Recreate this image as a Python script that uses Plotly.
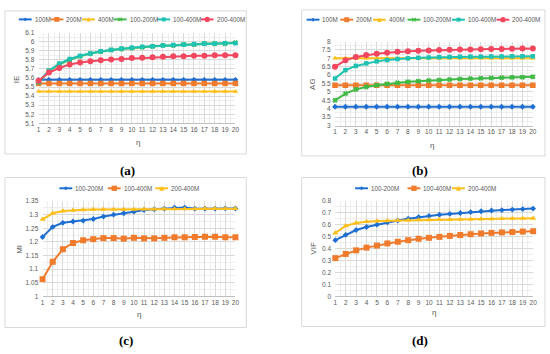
import plotly.graph_objects as go

# ---------------- data ----------------
eta = list(range(1, 21))

# (a) IE
ie_100M = [5.58, 5.58, 5.58, 5.58, 5.58, 5.58, 5.58, 5.58, 5.58, 5.58,
           5.58, 5.58, 5.58, 5.58, 5.58, 5.58, 5.58, 5.58, 5.58, 5.58]
ie_200M = [5.54, 5.54, 5.54, 5.54, 5.54, 5.54, 5.54, 5.54, 5.54, 5.54,
           5.54, 5.54, 5.54, 5.54, 5.54, 5.54, 5.54, 5.54, 5.54, 5.54]
ie_400M = [5.45, 5.45, 5.45, 5.45, 5.45, 5.45, 5.45, 5.45, 5.45, 5.45,
           5.45, 5.45, 5.45, 5.45, 5.45, 5.45, 5.45, 5.45, 5.45, 5.45]
ie_100_200M = [5.55, 5.68, 5.75, 5.80, 5.84, 5.87, 5.89, 5.91, 5.92, 5.93,
               5.94, 5.95, 5.96, 5.96, 5.97, 5.97, 5.98, 5.98, 5.98, 5.99]
ie_100_400M = [5.56, 5.68, 5.76, 5.81, 5.845, 5.87, 5.895, 5.91, 5.925, 5.935,
               5.945, 5.95, 5.96, 5.965, 5.97, 5.975, 5.98, 5.98, 5.985, 5.985]
ie_200_400M = [5.57, 5.66, 5.71, 5.75, 5.77, 5.785, 5.795, 5.805, 5.81, 5.82,
               5.825, 5.83, 5.835, 5.84, 5.84, 5.845, 5.845, 5.85, 5.85, 5.85]

# (b) AG
ag_100M = [4.12, 4.12, 4.12, 4.12, 4.12, 4.12, 4.12, 4.12, 4.12, 4.12,
           4.12, 4.12, 4.12, 4.12, 4.12, 4.12, 4.12, 4.12, 4.12, 4.12]
ag_200M = [5.40, 5.40, 5.40, 5.40, 5.40, 5.40, 5.40, 5.40, 5.40, 5.40,
           5.40, 5.40, 5.40, 5.40, 5.40, 5.40, 5.40, 5.40, 5.40, 5.40]
ag_400M = [7.00, 7.00, 7.00, 7.00, 7.00, 7.00, 7.00, 7.00, 7.00, 7.00,
           7.00, 7.00, 7.00, 7.00, 7.00, 7.00, 7.00, 7.00, 7.00, 7.00]
ag_100_200M = [4.50, 4.90, 5.15, 5.30, 5.40, 5.48, 5.54, 5.60, 5.64, 5.68,
               5.71, 5.74, 5.77, 5.79, 5.81, 5.83, 5.85, 5.87, 5.88, 5.90]
ag_100_400M = [5.80, 6.30, 6.55, 6.70, 6.82, 6.90, 6.96, 7.00, 7.03, 7.05,
               7.07, 7.08, 7.09, 7.10, 7.10, 7.11, 7.11, 7.12, 7.12, 7.12]
ag_200_400M = [6.50, 6.88, 7.08, 7.20, 7.28, 7.34, 7.39, 7.42, 7.45, 7.47,
               7.49, 7.51, 7.52, 7.53, 7.54, 7.55, 7.56, 7.57, 7.58, 7.58]

# (c) MI
mi_100_200M = [1.218, 1.255, 1.270, 1.275, 1.278, 1.284, 1.293, 1.300, 1.305, 1.311,
               1.317, 1.320, 1.322, 1.326, 1.326, 1.322, 1.322, 1.322, 1.323, 1.323]
mi_100_400M = [1.063, 1.127, 1.173, 1.196, 1.206, 1.210, 1.214, 1.214, 1.212, 1.215,
               1.213, 1.213, 1.215, 1.217, 1.217, 1.218, 1.219, 1.219, 1.217, 1.217]
mi_200_400M = [1.283, 1.305, 1.313, 1.316, 1.318, 1.319, 1.319, 1.319, 1.319, 1.319,
               1.320, 1.320, 1.321, 1.321, 1.321, 1.321, 1.322, 1.322, 1.322, 1.322]

# (d) VIF
vif_100_200M = [0.470, 0.515, 0.555, 0.580, 0.600, 0.620, 0.635, 0.650, 0.663, 0.672,
                0.683, 0.690, 0.697, 0.705, 0.712, 0.718, 0.722, 0.726, 0.730, 0.734]
vif_100_400M = [0.320, 0.355, 0.385, 0.408, 0.425, 0.443, 0.457, 0.470, 0.482, 0.490,
                0.498, 0.506, 0.513, 0.520, 0.526, 0.531, 0.535, 0.538, 0.542, 0.545]
vif_200_400M = [0.530, 0.590, 0.613, 0.625, 0.630, 0.632, 0.635, 0.637, 0.639, 0.640,
                0.642, 0.643, 0.644, 0.645, 0.647, 0.648, 0.650, 0.651, 0.652, 0.653]

panel_labels = ["(a)", "(b)", "(c)", "(d)"]
y_titles = ["IE", "AG", "MI", "VIF"]
x_title = "η"

# ---------------- styling ----------------
W, H = 550, 354
BLUE = "#1F6FD2"
ORANGE = "#F07B2C"
GOLD = "#FFBE1A"
GREEN = "#3FBA45"
TEAL = "#1FC2B2"
RED = "#F2475E"
TXT = "#595959"
FONT = "Liberation Sans"

def px(x):
    return x / W

def py(y):
    return 1 - y / H

fig = go.Figure()
shapes = []
annos = []

# series style: (name, color, symbol, size)
S_100M = ("100M", BLUE, "diamond", 4.5)
S_200M = ("200M", ORANGE, "square", 5.5)
S_400M = ("400M", GOLD, "triangle-up", 5)
S_G = ("100-200M", GREEN, "x", 4)
S_T = ("100-400M", TEAL, "square", 4.5)
S_R = ("200-400M", RED, "circle", 6)
S_C1 = ("100-200M", BLUE, "diamond", 4.5)
S_C2 = ("100-400M", ORANGE, "square", 6)
S_C3 = ("200-400M", GOLD, "triangle-up", 5.5)

panels = [
    dict(ax="1", box=(37, 236, 29.3, 121.7), rng=(5.1, 6.1), dt=0.1,
         series=[(S_100M, ie_100M), (S_200M, ie_200M), (S_400M, ie_400M),
                 (S_G, ie_100_200M), (S_T, ie_100_400M), (S_R, ie_200_400M)],
         frame=(3, 247, 7, 153), leg_y=15.7, leg_x=[17, 49, 81, 113, 157, 201],
         ytitle=(15, 77), xtitle=(137, 141), label=(127, 170)),
    dict(ax="2", box=(336.7, 536.7, 38.3, 124), rng=(3, 8), dt=0.5,
         series=[(S_100M, ag_100M), (S_200M, ag_200M), (S_400M, ag_400M),
                 (S_G, ag_100_200M), (S_T, ag_100_400M), (S_R, ag_200_400M)],
         frame=(303, 549, 6, 155), leg_y=16, leg_x=[308, 342, 375, 410, 455, 500],
         ytitle=(314, 82), xtitle=(435, 144), label=(423, 170)),
    dict(ax="3", box=(41, 236, 201, 298.3), rng=(1, 1.35), dt=0.05,
         series=[(S_C1, mi_100_200M), (S_C2, mi_100_400M), (S_C3, mi_200_400M)],
         frame=(3, 247, 177, 330), leg_y=188, leg_x=[58, 107, 155],
         ytitle=(17, 250), xtitle=(139, 317), label=(125, 343)),
    dict(ax="4", box=(337, 537, 200.7, 298.3), rng=(0, 0.8), dt=0.1,
         series=[(S_C1, vif_100_200M), (S_C2, vif_100_400M), (S_C3, vif_200_400M)],
         frame=(303, 549, 177, 329), leg_y=188, leg_x=[357, 410, 455],
         ytitle=(315, 249), xtitle=(437, 315), label=(423, 343)),
]


def marker_shape(sym, color, cx, cy, s):
    h = s / 2.0
    if sym == "square":
        return dict(type="rect", xref="paper", yref="paper",
                    x0=px(cx - h), x1=px(cx + h), y0=py(cy + h), y1=py(cy - h),
                    fillcolor=color, line=dict(color=color, width=0))
    if sym == "circle":
        return dict(type="circle", xref="paper", yref="paper",
                    x0=px(cx - h), x1=px(cx + h), y0=py(cy + h), y1=py(cy - h),
                    fillcolor=color, line=dict(color=color, width=0))
    if sym == "triangle-up":
        p = "M {a},{b} L {c},{d} L {e},{f} Z".format(
            a=px(cx), b=py(cy - h), c=px(cx - h), d=py(cy + h), e=px(cx + h), f=py(cy + h))
        return dict(type="path", xref="paper", yref="paper", path=p,
                    fillcolor=color, line=dict(color=color, width=0))
    if sym == "diamond":
        p = "M {a},{b} L {c},{d} L {e},{f} L {g},{k} Z".format(
            a=px(cx), b=py(cy - h), c=px(cx + h), d=py(cy), e=px(cx), f=py(cy + h),
            g=px(cx - h), k=py(cy))
        return dict(type="path", xref="paper", yref="paper", path=p,
                    fillcolor=color, line=dict(color=color, width=0))
    # x
    p = "M {a},{b} L {c},{d} M {e},{f} L {g},{k}".format(
        a=px(cx - h), b=py(cy - h), c=px(cx + h), d=py(cy + h),
        e=px(cx - h), f=py(cy + h), g=px(cx + h), k=py(cy - h))
    return dict(type="path", xref="paper", yref="paper", path=p,
                line=dict(color=color, width=1.2))


layout_axes = {}
for i, p in enumerate(panels):
    ax = p["ax"]
    xname = "xaxis" if ax == "1" else "xaxis" + ax
    yname = "yaxis" if ax == "1" else "yaxis" + ax
    xref = "x" if ax == "1" else "x" + ax
    yref = "y" if ax == "1" else "y" + ax
    x0, x1, yt, yb = p["box"]
    lo, hi = p["rng"]
    n = int(round((hi - lo) / p["dt"]))
    tv = [round(lo + p["dt"] * k, 4) for k in range(n + 1)]
    tt = ["{:g}".format(v) for v in tv]

    layout_axes[xname] = dict(
        domain=[px(x0), px(x1)], range=[1, 20], anchor=yref,
        tickvals=eta, ticktext=[str(e) for e in eta],
        showgrid=True, gridcolor="#D9D9D9", gridwidth=0.8,
        minor=dict(dtick=0.5, showgrid=True, gridcolor="#EEEEEE", gridwidth=0.6),
        showline=True, linecolor="#BFBFBF", linewidth=0.8,
        ticks="", zeroline=False,
        tickfont=dict(family=FONT, size=6.5, color=TXT),
    )
    layout_axes[yname] = dict(
        domain=[py(yb), py(yt)], range=[lo, hi], anchor=xref,
        tickvals=tv, ticktext=tt,
        showgrid=True, gridcolor="#D9D9D9", gridwidth=0.8,
        minor=dict(dtick=p["dt"] / 2, showgrid=True, gridcolor="#EEEEEE", gridwidth=0.6),
        showline=False, ticks="outside", ticklen=2, tickcolor="rgba(0,0,0,0)",
        zeroline=False,
        tickfont=dict(family=FONT, size=6.5, color=TXT),
    )

    for (name, color, sym, size), vals in p["series"]:
        fig.add_trace(go.Scatter(
            x=eta, y=vals, mode="lines+markers", name=name, showlegend=False,
            xaxis=xref, yaxis=yref, cliponaxis=False,
            line=dict(color=color, width=2),
            marker=dict(symbol=sym, size=size, color=color,
                        line=dict(color=color, width=1 if sym == "x" else 0)),
        ))

    # frame
    fx0, fx1, fy0, fy1 = p["frame"]
    shapes.append(dict(type="rect", xref="paper", yref="paper",
                       x0=px(fx0), x1=px(fx1), y0=py(fy1), y1=py(fy0),
                       line=dict(color="#D9D9D9", width=1), fillcolor="rgba(0,0,0,0)",
                       layer="below"))

    # legend
    ly = p["leg_y"]
    for ((name, color, sym, size), _), lx in zip(p["series"], p["leg_x"]):
        shapes.append(dict(type="line", xref="paper", yref="paper",
                           x0=px(lx), x1=px(lx + 13), y0=py(ly), y1=py(ly),
                           line=dict(color=color, width=2)))
        shapes.append(marker_shape(sym, color, lx + 6.5, ly, size * 0.9))
        annos.append(dict(xref="paper", yref="paper", x=px(lx + 14), y=py(ly),
                          xanchor="left", yanchor="middle", showarrow=False,
                          text=name, font=dict(family=FONT, size=6.3, color=TXT)))

    # axis titles
    tx, ty = p["ytitle"]
    annos.append(dict(xref="paper", yref="paper", x=px(tx), y=py(ty),
                      xanchor="center", yanchor="middle", showarrow=False,
                      text=y_titles[i], textangle=-90,
                      font=dict(family=FONT, size=8, color=TXT)))
    tx, ty = p["xtitle"]
    annos.append(dict(xref="paper", yref="paper", x=px(tx), y=py(ty),
                      xanchor="center", yanchor="middle", showarrow=False,
                      text=x_title, font=dict(family=FONT, size=8, color=TXT)))
    tx, ty = p["label"]
    annos.append(dict(xref="paper", yref="paper", x=px(tx), y=py(ty),
                      xanchor="center", yanchor="middle", showarrow=False,
                      text="<b>" + panel_labels[i] + "</b>",
                      font=dict(family="Liberation Serif", size=13, color="#000000")))

fig.update_layout(
    width=W, height=H, margin=dict(l=0, r=0, t=0, b=0),
    paper_bgcolor="white", plot_bgcolor="white",
    shapes=shapes, annotations=annos, showlegend=False,
    **layout_axes,
)

fig.write_html("out.html", config={"displayModeBar": False})

# remove default page margin so the figure sits at the window's top-left corner
with open("out.html", "r", encoding="utf-8") as f:
    html = f.read()
html = html.replace("<head>", "<head><style>html,body{margin:0;padding:0;overflow:hidden;}</style>", 1)
with open("out.html", "w", encoding="utf-8") as f:
    f.write(html)
